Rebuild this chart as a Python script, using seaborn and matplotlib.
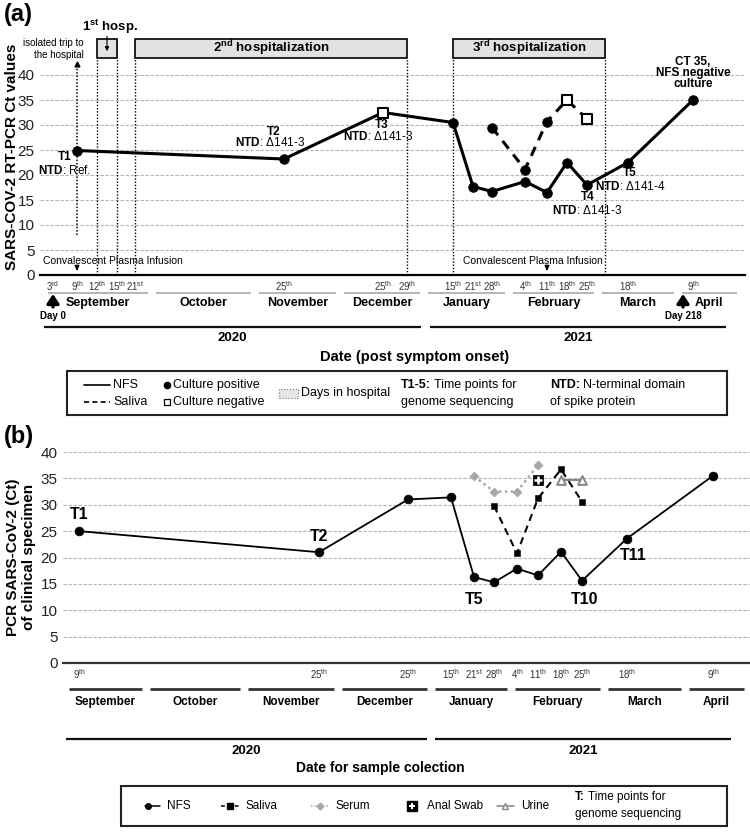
import numpy as np
import pandas as pd
import matplotlib
matplotlib.use("Agg")
import matplotlib.pyplot as plt
import matplotlib.transforms as mtransforms
import seaborn as sns
from matplotlib.patches import Rectangle
from matplotlib.lines import Line2D

# =========================
# DATA
# =========================

onset = "2020-09-03"        # Day 0 (symptom onset)
last_date = "2021-04-09"    # Day 218

# panel (a): RT-PCR Ct values
a_nfs_dates = ["2020-09-09", "2020-11-25", "2020-12-25", "2021-01-15", "2021-01-21", "2021-01-28",
               "2021-02-04", "2021-02-11", "2021-02-18", "2021-02-25", "2021-03-18", "2021-04-09"]
a_nfs_ct = [24.9, 23.2, 32.5, 30.5, 17.7, 16.7, 18.7, 16.5, 22.5, 18.0, 22.5, 35.0]
a_nfs_culture = ["positive", "positive", "negative", "positive", "positive", "positive",
                 "positive", "positive", "positive", "positive", "positive", "positive"]

a_sal_dates = ["2021-01-28", "2021-02-04", "2021-02-11", "2021-02-18", "2021-02-25"]
a_sal_ct = [29.5, 21.1, 30.7, 35.0, 31.2]
a_sal_culture = ["positive", "positive", "positive", "negative", "negative"]

a_tp_names = ["T1", "T2", "T3", "T4", "T5"]
a_tp_dates = ["2020-09-09", "2020-11-25", "2020-12-25", "2021-02-25", "2021-03-18"]
a_tp_ntd = ["Ref.", "Δ141-3", "Δ141-3", "Δ141-3", "Δ141-4"]

hosp_labels = [r"1$^{\mathbf{st}}$ hosp.", r"2$^{\mathbf{nd}}$ hospitalization", r"3$^{\mathbf{rd}}$ hospitalization"]
hosp_start = ["2020-09-12", "2020-09-21", "2021-01-15"]
hosp_end = ["2020-09-15", "2020-12-29", "2021-03-05"]
trip_date = "2020-09-09"
infusion_dates = ["2020-09-09", "2021-02-11"]

a_tick_dates = ["2020-09-03", "2020-09-09", "2020-09-12", "2020-09-15", "2020-09-21", "2020-11-25",
                "2020-12-25", "2020-12-29", "2021-01-15", "2021-01-21", "2021-01-28", "2021-02-04",
                "2021-02-11", "2021-02-18", "2021-02-25", "2021-03-18", "2021-04-09"]

# panel (b): Ct of clinical specimens
b_nfs_dates = ["2020-09-09", "2020-11-25", "2020-12-25", "2021-01-15", "2021-01-21", "2021-01-28",
               "2021-02-04", "2021-02-11", "2021-02-18", "2021-02-25", "2021-03-18", "2021-04-09"]
b_nfs_ct = [25.0, 21.0, 31.0, 31.4, 16.3, 15.3, 17.9, 16.6, 21.1, 15.6, 23.6, 35.5]
b_sal_dates = ["2021-01-28", "2021-02-04", "2021-02-11", "2021-02-18", "2021-02-25"]
b_sal_ct = [29.8, 20.8, 31.2, 36.7, 30.6]
b_ser_dates = ["2021-01-21", "2021-01-28", "2021-02-04", "2021-02-11"]
b_ser_ct = [35.4, 32.5, 32.5, 37.5]
b_anal_dates = ["2021-02-11"]
b_anal_ct = [34.6]
b_uri_dates = ["2021-02-18", "2021-02-25"]
b_uri_ct = [34.6, 34.6]

b_tp_names = ["T1", "T2", "T5", "T10", "T11"]
b_tp_dates = ["2020-09-09", "2020-11-25", "2021-01-21", "2021-02-25", "2021-03-18"]

b_tick_dates = ["2020-09-09", "2020-11-25", "2020-12-25", "2021-01-15", "2021-01-21", "2021-01-28",
                "2021-02-04", "2021-02-11", "2021-02-18", "2021-02-25", "2021-03-18", "2021-04-09"]

month_names = ["September", "October", "November", "December", "January", "February", "March", "April"]
month_starts = ["2020-09-01", "2020-10-01", "2020-11-01", "2020-12-01", "2021-01-01",
                "2021-02-01", "2021-03-01", "2021-04-01", "2021-05-01"]
years = ["2020", "2021"]
year_spans = [("2020-09-01", "2021-01-01"), ("2021-01-01", "2021-05-01")]

# =========================
# LAYOUT (non-linear date axis, as drawn in the figure)
# =========================

a_warp_dates = ["2020-08-30", "2020-09-01", "2020-09-03", "2020-09-09", "2020-09-12", "2020-09-15",
                "2020-09-21", "2020-10-01", "2020-11-01", "2020-11-25", "2020-12-01", "2020-12-25",
                "2020-12-29", "2021-01-01", "2021-01-15", "2021-01-21", "2021-01-28", "2021-02-01",
                "2021-02-04", "2021-02-11", "2021-02-18", "2021-02-25", "2021-03-01", "2021-03-18",
                "2021-04-01", "2021-04-09", "2021-05-03"]
a_warp_px = [40, 44, 53, 77, 97, 117, 135, 152, 255, 284, 340, 383, 407, 424, 453, 473, 492, 509,
             525, 547, 567, 587, 598, 628, 678, 693, 745]

b_warp_dates = ["2020-08-31", "2020-09-09", "2020-10-01", "2020-11-01", "2020-11-25", "2020-12-01",
                "2020-12-25", "2021-01-01", "2021-01-15", "2021-01-21", "2021-01-28", "2021-02-01",
                "2021-02-04", "2021-02-11", "2021-02-18", "2021-02-25", "2021-03-01", "2021-03-18",
                "2021-04-01", "2021-04-09", "2021-05-02"]
b_warp_px = [63, 79, 146, 244, 319, 338, 408, 431, 451, 474, 494, 511, 517, 538, 561, 582, 604,
             627, 685, 713, 750]

# =========================
# STYLE
# =========================

sns.set_theme(style="white")
plt.rcParams["font.family"] = ["Liberation Sans", "DejaVu Sans"]
plt.rcParams["mathtext.fontset"] = "custom"
plt.rcParams["mathtext.rm"] = "Liberation Sans"
plt.rcParams["mathtext.bf"] = "Liberation Sans:bold"
plt.rcParams["mathtext.it"] = "Liberation Sans:italic"
plt.rcParams["text.color"] = "black"

W, H = 750, 832
fig = plt.figure(figsize=(W / 100, H / 100), dpi=100)


def fx(px):
    return px / W


def fy(py):
    return 1 - py / H


def days(dates):
    d = pd.to_datetime(list(np.atleast_1d(dates))) - pd.Timestamp(onset)
    return np.asarray(d.days, dtype=float)


def ordinal(date):
    n = pd.Timestamp(date).day
    if n % 10 == 1 and n != 11:
        suf = "st"
    elif n % 10 == 2 and n != 12:
        suf = "nd"
    elif n % 10 == 3 and n != 13:
        suf = "rd"
    else:
        suf = "th"
    return f"{n}$^{{\\mathrm{{{suf}}}}}$"


def set_warp(ax, wdates, wpx):
    d = days(wdates)
    p = np.asarray(wpx, dtype=float)
    fwd = lambda x: np.interp(x, d, p)
    inv = lambda y: np.interp(y, p, d)
    ax.set_xscale("function", functions=(fwd, inv))
    return fwd, inv, d


def style_axis(ax, wd, ymax, tick_dates, ylab_fs, xlab_fs):
    ax.set_xlim(wd[0], wd[-1])
    ax.set_ylim(0, ymax)
    ax.set_yticks(range(0, 41, 5))
    ax.set_xticks(days(tick_dates), [ordinal(t) for t in tick_dates])
    ax.set(xlabel="", ylabel="")
    for s in ["left", "right", "top"]:
        ax.spines[s].set_visible(False)
    ax.spines["bottom"].set_color("black")
    ax.spines["bottom"].set_linewidth(1.6)
    ax.yaxis.grid(True, color="#b4b4b4", lw=0.8, ls=(0, (3, 1.5)))
    ax.xaxis.grid(False)
    ax.set_axisbelow(True)
    ax.tick_params(axis="y", length=0, labelsize=ylab_fs, pad=4, labelcolor="#222222")
    ax.tick_params(axis="x", length=0, labelsize=xlab_fs, pad=3, labelcolor="#333333")


def draw_dates_below(ax, fwd, inv, yfrac, y_mline, y_mname, y_yline, y_yname,
                     mcolor, mlw, mfs, yfs, ygaps):
    tr = ax.get_xaxis_transform()
    edges = days(month_starts)
    for i, name in enumerate(month_names):
        p0, p1 = fwd(edges[i]) + 4, fwd(edges[i + 1]) - 4
        ax.plot([inv(p0), inv(p1)], [yfrac(y_mline)] * 2, transform=tr, clip_on=False,
                color=mcolor, lw=mlw, solid_capstyle="butt")
        ax.text(inv((p0 + p1) / 2), yfrac(y_mname), name, transform=tr, ha="center",
                va="center", fontsize=mfs, fontweight="bold")
    for yr, (s, e), (g0, g1) in zip(years, year_spans, ygaps):
        p0, p1 = fwd(days(s)[0]) + g0, fwd(days(e)[0]) - g1
        ax.plot([inv(p0), inv(p1)], [yfrac(y_yline)] * 2, transform=tr, clip_on=False,
                color="#111111", lw=1.6, solid_capstyle="butt")
        ax.text(inv((p0 + p1) / 2), yfrac(y_yname), yr, transform=tr, ha="center",
                va="center", fontsize=yfs, fontweight="bold")


def rich(ax, x, y, bold, normal, fs):
    t = ax.text(fx(x), fy(y), bold, transform=fig.transFigure, fontweight="bold",
                fontsize=fs, ha="left", va="bottom")
    ax.annotate(normal, xy=(1, 0), xycoords=t, xytext=(2, 0), textcoords="offset points",
                fontsize=fs, ha="left", va="bottom")


# ==========================================================
# PANEL (a)
# ==========================================================

ax_a = fig.add_axes([fx(40), fy(275), (745 - 40) / W, (275 - 39) / H])
fwd_a, inv_a, wd_a = set_warp(ax_a, a_warp_dates, a_warp_px)
ya = lambda Y: (275 - Y) / 236

nfs_a = pd.DataFrame({"day": days(a_nfs_dates), "ct": a_nfs_ct, "culture": a_nfs_culture})
sal_a = pd.DataFrame({"day": days(a_sal_dates), "ct": a_sal_ct, "culture": a_sal_culture})
pts_a = pd.concat([nfs_a, sal_a])

sns.lineplot(data=nfs_a, x="day", y="ct", ax=ax_a, color="black", lw=2.2,
             estimator=None, sort=False, zorder=3)
sns.lineplot(data=sal_a, x="day", y="ct", ax=ax_a, color="black", lw=2.2,
             linestyle=(0, (3.2, 2.4)), estimator=None, sort=False, zorder=3)
sns.scatterplot(data=pts_a[pts_a.culture == "positive"], x="day", y="ct", ax=ax_a,
                color="black", edgecolor="black", marker="o", s=48, zorder=4)
sns.scatterplot(data=pts_a[pts_a.culture == "negative"], x="day", y="ct", ax=ax_a,
                color="white", edgecolor="black", linewidth=1.5, marker="s", s=48, zorder=4)

style_axis(ax_a, wd_a, 47.2, a_tick_dates, 11, 7)

# hospitalization boxes and dotted limits
box_lo, box_hi = 43.4, 47.2
for i, (lab, s, e) in enumerate(zip(hosp_labels, hosp_start, hosp_end)):
    d0, d1 = days([s, e])
    ax_a.add_patch(Rectangle((d0, box_lo), d1 - d0, box_hi - box_lo, facecolor="#e2e2e2",
                             edgecolor="black", lw=1.2, clip_on=False, zorder=2))
    ax_a.vlines([d0, d1], 0, box_lo, colors="black", linestyles=(0, (1, 1.3)), lw=1, zorder=1)
    mid = inv_a((fwd_a(d0) + fwd_a(d1)) / 2)
    if i == 0:
        ax_a.text(inv_a(fwd_a(mid) + 3), 49.6, lab, ha="center", va="center", fontsize=9.5,
                  fontweight="bold", clip_on=False)
        ax_a.annotate("", xy=(mid, 44.2), xytext=(mid, 48.3),
                      arrowprops=dict(arrowstyle="-|>", lw=0.8, color="black", mutation_scale=6),
                      annotation_clip=False)
    else:
        ax_a.text(mid, (box_lo + box_hi) / 2, lab, ha="center", va="center",
                  fontsize=9.5, fontweight="bold")

# isolated trip to the hospital
dt = days(trip_date)[0]
ax_a.plot([dt, dt], [8, 41.8], color="black", lw=1.1, ls=(0, (1, 1.2)), zorder=2)
ax_a.plot([dt], [42.2], marker="^", ms=3.5, color="black", zorder=2)
fig.text(fx(84), fy(49), "isolated trip to\nthe hospital", ha="right", va="center",
         fontsize=7, linespacing=1.15)

# convalescent plasma infusion
for d, dx in zip(days(infusion_dates), [36, -14]):
    ax_a.annotate("Convalescent Plasma Infusion", xy=(d, 2.8), xytext=(dx, 0),
                  textcoords="offset pixels", ha="center", va="center", fontsize=7.5)
    ax_a.annotate("", xy=(d, 0.3), xytext=(d, 2.0),
                  arrowprops=dict(arrowstyle="-|>", lw=1.2, color="black", mutation_scale=6))

# time point labels
a_tp_off = [((-12, -6), (-12, -20)), ((-10, 27), (-14, 16)), ((-1, -12), (-5, -24)),
            ((1, -12), (0, -25)), ((2, -11), (2, -24))]
ct_lookup_a = dict(zip(nfs_a.day, nfs_a.ct))
for name, date, ntd, (o1, o2) in zip(a_tp_names, a_tp_dates, a_tp_ntd, a_tp_off):
    d = days(date)[0]
    ax_a.annotate(name, xy=(d, ct_lookup_a[d]), xytext=o1, textcoords="offset pixels",
                  ha="center", va="center", fontsize=8.5, fontweight="bold")
    ax_a.annotate(r"$\mathbf{NTD}$: " + ntd, xy=(d, ct_lookup_a[d]), xytext=o2,
                  textcoords="offset pixels", ha="center", va="center", fontsize=8.5)

dl = days(last_date)[0]
ax_a.annotate("CT 35,\nNFS negative\nculture", xy=(dl, ct_lookup_a[dl]), xytext=(0, 10),
              textcoords="offset pixels", ha="center", va="bottom", fontsize=8.5,
              fontweight="bold", linespacing=0.9)

# Day 0 / Day 218 arrows
tr_a = ax_a.get_xaxis_transform()
for date, txt, shift in zip([onset, last_date], ["Day 0", "Day 218"], [0, -10]):
    t = mtransforms.offset_copy(tr_a, fig=fig, x=shift, y=0, units="dots")
    d = days(date)[0]
    ax_a.annotate("", xy=(d, ya(294)), xytext=(d, ya(307)), xycoords=t, textcoords=t,
                  arrowprops=dict(arrowstyle="-|>,head_width=0.3,head_length=0.45", lw=2.4,
                                  color="black", mutation_scale=12, shrinkA=0, shrinkB=0),
                  annotation_clip=False)
    ax_a.text(d, ya(316), txt, transform=t, ha="center", va="center", fontsize=7,
              fontweight="bold")

draw_dates_below(ax_a, fwd_a, inv_a, ya, 293, 303, 327, 338, "#b0b0b0", 1.3, 9, 9.5,
                 [(0, 3), (6, 15)])
fig.text(fx(415), fy(357), "Date (post symptom onset)", ha="center", va="center",
         fontsize=10.5, fontweight="bold")
fig.text(fx(12), fy(157), "SARS-COV-2 RT-PCR Ct values", rotation=90, ha="center",
         va="center", fontsize=11, fontweight="bold")
fig.text(fx(4), fy(15), "(a)", ha="left", va="center", fontsize=17, fontweight="bold")

# legend (a)
fig.add_artist(Rectangle((fx(67), fy(415)), (727 - 67) / W, (415 - 371) / H,
                         transform=fig.transFigure, fill=False, lw=1.5, edgecolor="#222222"))
fig.add_artist(Line2D([fx(84), fx(110)], [fy(385)] * 2, color="black", lw=1.2))
fig.add_artist(Line2D([fx(84), fx(110)], [fy(402)] * 2, color="black", lw=1.2, ls=(0, (3, 2))))
fig.text(fx(113), fy(385), "NFS", va="center", fontsize=9)
fig.text(fx(113), fy(402), "Saliva", va="center", fontsize=9)
fig.add_artist(Line2D([fx(167)], [fy(385)], marker="o", ms=4.5, color="black", ls="none"))
fig.add_artist(Line2D([fx(167)], [fy(402)], marker="s", ms=5, mfc="white", mec="black",
                      mew=0.9, ls="none"))
fig.text(fx(173), fy(385), "Culture positive", va="center", fontsize=9)
fig.text(fx(173), fy(402), "Culture negative", va="center", fontsize=9)
fig.add_artist(Rectangle((fx(279), fy(398)), 19 / W, 9 / H, transform=fig.transFigure,
                         facecolor="#e6e6e6", edgecolor="#777777", lw=0.8, ls=":"))
fig.text(fx(301), fy(393), "Days in hospital", va="center", fontsize=9)
rich(ax_a, 401, 391, "T1-5:", "Time points for", 9)
fig.text(fx(401), fy(402), "genome sequencing", va="center", fontsize=9)
rich(ax_a, 550, 391, "NTD:", "N-terminal domain", 9)
fig.text(fx(550), fy(402), "of spike protein", va="center", fontsize=9)

# ==========================================================
# PANEL (b)
# ==========================================================

ax_b = fig.add_axes([fx(63), fy(663), (750 - 63) / W, (663 - 452) / H])
fwd_b, inv_b, wd_b = set_warp(ax_b, b_warp_dates, b_warp_px)
yb = lambda Y: (663 - Y) / 211

nfs_b = pd.DataFrame({"day": days(b_nfs_dates), "ct": b_nfs_ct})
sal_b = pd.DataFrame({"day": days(b_sal_dates), "ct": b_sal_ct})
ser_b = pd.DataFrame({"day": days(b_ser_dates), "ct": b_ser_ct})
anal_b = pd.DataFrame({"day": days(b_anal_dates), "ct": b_anal_ct})
uri_b = pd.DataFrame({"day": days(b_uri_dates), "ct": b_uri_ct})

sns.lineplot(data=ser_b, x="day", y="ct", ax=ax_b, color="#a8a8a8", lw=1.8,
             linestyle=(0, (1, 1.4)), estimator=None, sort=False, zorder=2)
sns.scatterplot(data=ser_b, x="day", y="ct", ax=ax_b, color="#a8a8a8", edgecolor="#a8a8a8",
                marker="D", s=22, zorder=3)
sns.lineplot(data=sal_b, x="day", y="ct", ax=ax_b, color="black", lw=1.5,
             linestyle=(0, (3.5, 2.5)), estimator=None, sort=False, zorder=3)
sns.scatterplot(data=sal_b, x="day", y="ct", ax=ax_b, color="black", edgecolor="black",
                marker="s", s=24, zorder=4)
sns.lineplot(data=uri_b, x="day", y="ct", ax=ax_b, color="#858585", lw=1.5,
             estimator=None, sort=False, zorder=4)
sns.scatterplot(data=uri_b, x="day", y="ct", ax=ax_b, color="white", edgecolor="#858585",
                linewidth=1.4, marker="^", s=40, zorder=5)
sns.scatterplot(data=anal_b, x="day", y="ct", ax=ax_b, color="black", edgecolor="black",
                marker="s", s=45, zorder=5)
sns.scatterplot(data=anal_b, x="day", y="ct", ax=ax_b, color="white", marker="+",
                s=30, linewidth=1.8, zorder=6)
sns.lineplot(data=nfs_b, x="day", y="ct", ax=ax_b, color="black", lw=1.3,
             estimator=None, sort=False, zorder=5)
sns.scatterplot(data=nfs_b, x="day", y="ct", ax=ax_b, color="black", edgecolor="black",
                marker="o", s=40, zorder=6)

style_axis(ax_b, wd_b, 40, b_tick_dates, 11, 7)
ax_b.spines["bottom"].set_color("#333333")

b_tp_off = [(0, 17), (0, 16), (0, -22), (3, -19), (6, -17)]
ct_lookup_b = dict(zip(nfs_b.day, nfs_b.ct))
for name, date, off in zip(b_tp_names, b_tp_dates, b_tp_off):
    d = days(date)[0]
    ax_b.annotate(name, xy=(d, ct_lookup_b[d]), xytext=off, textcoords="offset pixels",
                  ha="center", va="center", fontsize=11.5, fontweight="bold")

draw_dates_below(ax_b, fwd_b, inv_b, yb, 689, 702, 739, 751, "#333333", 2.0, 8.5, 9.5,
                 [(1, 4), (4, 17)])
fig.text(fx(380), fy(768), "Date for sample colection", ha="center", va="center",
         fontsize=10, fontweight="bold")
fig.text(fx(21), fy(557), "PCR SARS-CoV-2 (Ct)\nof clinical specimen", rotation=90,
         ha="center", va="center", fontsize=11, fontweight="bold", linespacing=1.1)
fig.text(fx(4), fy(437), "(b)", ha="left", va="center", fontsize=17, fontweight="bold")

# legend (b)
fig.add_artist(Rectangle((fx(121), fy(826)), (727 - 121) / W, (826 - 786) / H,
                         transform=fig.transFigure, fill=False, lw=1.5, edgecolor="#222222"))
ly = 806
fig.add_artist(Line2D([fx(145), fx(160)], [fy(ly)] * 2, color="black", lw=1.1))
fig.add_artist(Line2D([fx(148)], [fy(ly)], marker="o", ms=4, color="black", ls="none"))
fig.text(fx(167), fy(ly), "NFS", va="center", fontsize=8.5)
fig.add_artist(Line2D([fx(221), fx(239)], [fy(ly)] * 2, color="black", lw=1.1, ls=(0, (2.5, 2))))
fig.add_artist(Line2D([fx(230)], [fy(ly)], marker="s", ms=4.5, color="black", ls="none"))
fig.text(fx(246), fy(ly), "Saliva", va="center", fontsize=8.5)
fig.add_artist(Line2D([fx(311), fx(329)], [fy(ly)] * 2, color="#a8a8a8", lw=1.1, ls=(0, (1, 1.5))))
fig.add_artist(Line2D([fx(320)], [fy(ly)], marker="D", ms=3.5, color="#a8a8a8", ls="none"))
fig.text(fx(336), fy(ly), "Serum", va="center", fontsize=8.5)
fig.add_artist(Line2D([fx(412)], [fy(ly)], marker="s", ms=6.5, color="black", ls="none"))
fig.add_artist(Line2D([fx(412)], [fy(ly)], marker="+", ms=5, mec="white", mew=1.5, ls="none"))
fig.text(fx(427), fy(ly), "Anal Swab", va="center", fontsize=8.5)
fig.add_artist(Line2D([fx(497), fx(514)], [fy(ly)] * 2, color="#858585", lw=1.1))
fig.add_artist(Line2D([fx(505)], [fy(ly)], marker="^", ms=5, mfc="white", mec="#858585",
                      mew=1, ls="none"))
fig.text(fx(521), fy(ly), "Urine", va="center", fontsize=8.5)
rich(ax_b, 575, 803, "T:", "Time points for", 8.5)
fig.text(fx(575), fy(814), "genome sequencing", va="center", fontsize=8.5)

plt.savefig("out.png", dpi=100)
